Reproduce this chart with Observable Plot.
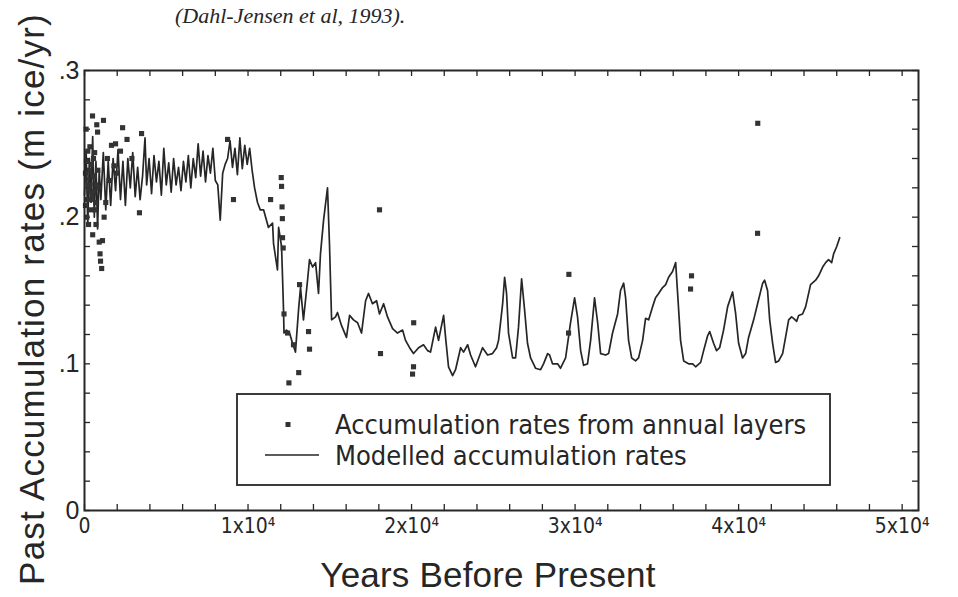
<!DOCTYPE html>
<html>
<head>
<meta charset="utf-8">
<script src="https://cdn.jsdelivr.net/npm/d3@7"></script>
<script src="https://cdn.jsdelivr.net/npm/@observablehq/plot@0.6"></script>
<style>
  html, body { margin: 0; padding: 0; background: #fff; }
  #wrap { position: relative; width: 958px; height: 597px; overflow: hidden; }
</style>
</head>
<body>
<div id="wrap"></div>
<script>
// Modelled accumulation rates (years BP, m ice/yr)
const lineYears = [
  0,100,200,300,400,500,600,700,800,900,1000,1150,1300,1450,1600,1750,1900,2050,2200,2350,
  2500,2650,2800,2950,3100,3250,3400,3550,3700,3800,3950,4100,4250,4400,4550,4700,4850,5000,
  5150,5300,5450,5600,5750,5900,6050,6200,6350,6500,6650,6800,6950,7100,7250,7400,7550,7700,
  7850,8000,8150,8300,8450,8600,8750,8900,9050,9200,9350,9500,9650,9800,9950,10100,10250,10400,
  10580,10750,10950,11250,11500,11560,11800,11870,12050,12110,12170,12200,12350,12540,12720,12900,
  13090,13210,13390,13640,13760,13950,14130,14310,14430,14620,14860,14980,15110,15350,15470,15720,
  16020,16210,16450,16700,16940,17190,17370,17610,17860,18040,18290,18530,18840,19140,19450,19630,
  19880,20120,20430,20730,20980,21160,21470,21650,21960,22080,22260,22510,22690,23000,23180,23430,
  23610,23910,24340,24650,24950,25200,25320,25570,25690,25810,25930,26180,26360,26540,26730,26910,
  27090,27280,27580,27890,28070,28320,28440,28620,28930,29110,29420,29720,29970,30150,30340,30520,
  30760,30950,31190,31380,31560,31870,32050,32290,32600,32780,32970,33090,33270,33460,33700,33880,
  34130,34310,34500,34740,34920,35110,35350,35540,35720,35960,36150,36270,36450,36640,36940,37190,
  37370,37680,37860,38100,38230,38470,38650,38840,39080,39330,39630,39820,40000,40240,40430,40610,
  40920,41160,41470,41590,41770,41900,42080,42260,42450,42690,42870,43060,43240,43360,43550,43670,
  43910,44100,44400,44710,44890,45140,45320,45500,45690,45810,46000,46180
];
const lineRates = [
  0.215,0.245,0.195,0.240,0.210,0.255,0.200,0.238,0.192,0.232,0.212,0.244,0.205,0.238,0.208,0.240,0.218,0.246,0.212,0.238,
  0.208,0.240,0.220,0.244,0.214,0.234,0.212,0.228,0.254,0.222,0.240,0.216,0.242,0.224,0.238,0.215,0.247,0.222,
  0.237,0.217,0.240,0.222,0.234,0.218,0.238,0.224,0.242,0.220,0.240,0.227,0.250,0.228,0.245,0.224,0.242,0.230,
  0.247,0.225,0.222,0.198,0.230,0.236,0.240,0.252,0.234,0.247,0.229,0.254,0.233,0.249,0.236,0.247,0.232,0.220,
  0.210,0.205,0.205,0.193,0.196,0.182,0.164,0.193,0.180,0.159,0.137,0.121,0.123,0.121,0.114,0.108,
  0.137,0.152,0.130,0.157,0.171,0.166,0.169,0.148,0.175,0.198,0.220,0.182,0.130,0.132,0.135,0.126,
  0.118,0.133,0.130,0.128,0.121,0.143,0.148,0.141,0.143,0.134,0.141,0.132,0.124,0.121,0.123,0.116,
  0.111,0.107,0.111,0.113,0.109,0.108,0.125,0.116,0.133,0.118,0.098,0.092,0.096,0.111,0.108,0.113,
  0.106,0.098,0.111,0.106,0.107,0.111,0.116,0.141,0.159,0.148,0.121,0.104,0.104,0.125,0.158,0.137,
  0.114,0.104,0.097,0.096,0.100,0.107,0.106,0.100,0.100,0.097,0.104,0.128,0.145,0.132,0.109,0.099,
  0.100,0.116,0.145,0.128,0.107,0.106,0.107,0.121,0.134,0.150,0.155,0.145,0.116,0.104,0.102,0.104,
  0.116,0.131,0.130,0.139,0.145,0.148,0.152,0.154,0.159,0.163,0.169,0.148,0.116,0.102,0.100,0.100,
  0.098,0.101,0.109,0.119,0.122,0.114,0.109,0.111,0.123,0.139,0.149,0.134,0.114,0.104,0.107,0.118,
  0.130,0.141,0.155,0.157,0.150,0.130,0.114,0.101,0.102,0.107,0.118,0.130,0.132,0.131,0.129,0.133,
  0.134,0.139,0.154,0.157,0.160,0.166,0.169,0.171,0.169,0.175,0.180,0.186
];

// Accumulation rates from annual layers
const pointYears = [
  60,100,150,200,250,300,350,400,450,490,500,550,600,650,700,750,800,850,900,950,
  980,1050,1100,1160,1200,1300,1400,1500,1650,1800,1900,2000,2200,2330,2600,2900,3360,3490,
  120,180,260,330,420,520,620,720,820,60,140,240,380,560,680,
  8750,9110,11380,12030,12050,12080,12100,12110,12150,12200,12420,12500,12780,13100,13150,13700,13760,
  18040,18100,20060,20120,20130,29600,29620,37060,37120,41160,41170
];
const pointRates = [
  0.230,0.260,0.212,0.245,0.195,0.232,0.222,0.205,0.215,0.269,0.188,0.240,0.228,0.205,0.195,0.263,0.258,0.220,0.183,0.175,
  0.170,0.165,0.184,0.266,0.200,0.210,0.240,0.225,0.249,0.235,0.250,0.230,0.245,0.261,0.253,0.240,0.203,0.257,
  0.238,0.226,0.218,0.248,0.236,0.228,0.244,0.222,0.232,0.208,0.200,0.222,0.212,0.218,0.210,
  0.253,0.212,0.212,0.227,0.221,0.207,0.199,0.186,0.179,0.134,0.121,0.087,0.113,0.094,0.154,0.122,0.110,0.205,
  0.107,0.093,0.098,0.128,0.121,0.161,0.151,0.160,0.189,0.264,0.246
];

const xLabelTicks = [0, 10000, 20000, 30000, 40000, 50000];
const xMinorTicks = d3.range(0, 50001, 2000);
const yLabelTicks = [0, 0.1, 0.2, 0.3];
const yMinorTicks = d3.range(0, 0.3001, 0.02);

const lineData = lineYears.map((x, i) => ({x, y: lineRates[i]}));
const pointData = pointYears.map((x, i) => ({x, y: pointRates[i]}));

const W = 958, H = 597, mL = 84, mR = 40, mT = 70, mB = 87;
const FH = H - mT - mB, FW = W - mL - mR;
const ink = "#262626";
const narrow = '"Liberation Sans Narrow", "Arial Narrow", "DejaVu Sans Condensed", sans-serif';
const sans = '"Liberation Sans", Arial, sans-serif';

const chart = Plot.plot({
  width: W, height: H,
  marginLeft: mL, marginRight: mR, marginTop: mT, marginBottom: mB,
  style: {background: "#fff", color: ink, fontFamily: sans},
  x: {domain: [0, 51000]},
  y: {domain: [0, 0.3]},
  marks: [
    Plot.tickX(xMinorTicks, {x: d => d, insetTop: FH - 6, stroke: ink, strokeWidth: 1.3}),
    Plot.tickX(xMinorTicks, {x: d => d, insetBottom: FH - 6, stroke: ink, strokeWidth: 1.3}),
    Plot.tickY(yMinorTicks, {y: d => d, insetRight: FW - 6, stroke: ink, strokeWidth: 1.3}),
    Plot.tickY(yMinorTicks, {y: d => d, insetLeft: FW - 6, stroke: ink, strokeWidth: 1.3}),
    Plot.line(lineData, {x: "x", y: "y", stroke: ink, strokeWidth: 1.7, strokeLinejoin: "round"}),
    Plot.dot(pointData, {x: "x", y: "y", symbol: "square", r: 2.9, fill: "#333", stroke: "none"}),
    Plot.frame({stroke: ink, strokeWidth: 2}),
    Plot.axisX(xLabelTicks, {anchor: "bottom", tickSize: 0, tickPadding: 8, fontSize: 21, fontFamily: narrow,
      tickFormat: d => d === 0 ? "0" : `${d / 10000}x10⁴`, label: null}),
    Plot.axisY(yLabelTicks, {anchor: "left", tickSize: 0, tickPadding: 5, fontSize: 25,
      tickFormat: d => d === 0 ? "0" : "." + Math.round(d * 10), label: null})
  ]
});

const svg = d3.select(chart);
// axis titles
svg.append("text").attr("x", 488).attr("y", 587).attr("text-anchor", "middle")
  .attr("font-size", 35).attr("letter-spacing", 0.2).attr("fill", ink).attr("font-family", sans)
  .text("Years Before Present");
svg.append("text").attr("transform", "translate(44,299) rotate(-90)").attr("text-anchor", "middle")
  .attr("font-size", 35).attr("letter-spacing", 1.2).attr("fill", ink).attr("font-family", sans)
  .text("Past Accumulation rates (m ice/yr)");
// top caption
svg.append("text").attr("x", 175).attr("y", 23).attr("text-anchor", "start")
  .attr("font-size", 22).attr("font-style", "italic").attr("fill", ink)
  .attr("font-family", '"Liberation Serif", "Times New Roman", serif')
  .text("(Dahl-Jensen et al, 1993).");
// legend
const lg = svg.append("g").attr("text-anchor", "start");
lg.append("rect").attr("x", 237).attr("y", 394).attr("width", 593).attr("height", 91)
  .attr("fill", "#fff").attr("stroke", ink).attr("stroke-width", 1.8);
lg.append("rect").attr("x", 285.5).attr("y", 422).attr("width", 5).attr("height", 5).attr("fill", "#333");
lg.append("line").attr("x1", 265).attr("x2", 319).attr("y1", 455).attr("y2", 455)
  .attr("stroke", ink).attr("stroke-width", 1.6);
lg.append("text").attr("x", 335).attr("y", 434).attr("font-size", 27).attr("font-family", narrow)
  .attr("fill", ink).text("Accumulation rates from annual layers");
lg.append("text").attr("x", 335).attr("y", 465).attr("font-size", 27).attr("font-family", narrow)
  .attr("fill", ink).text("Modelled accumulation rates");

document.getElementById("wrap").appendChild(chart);
</script>
</body>
</html>
